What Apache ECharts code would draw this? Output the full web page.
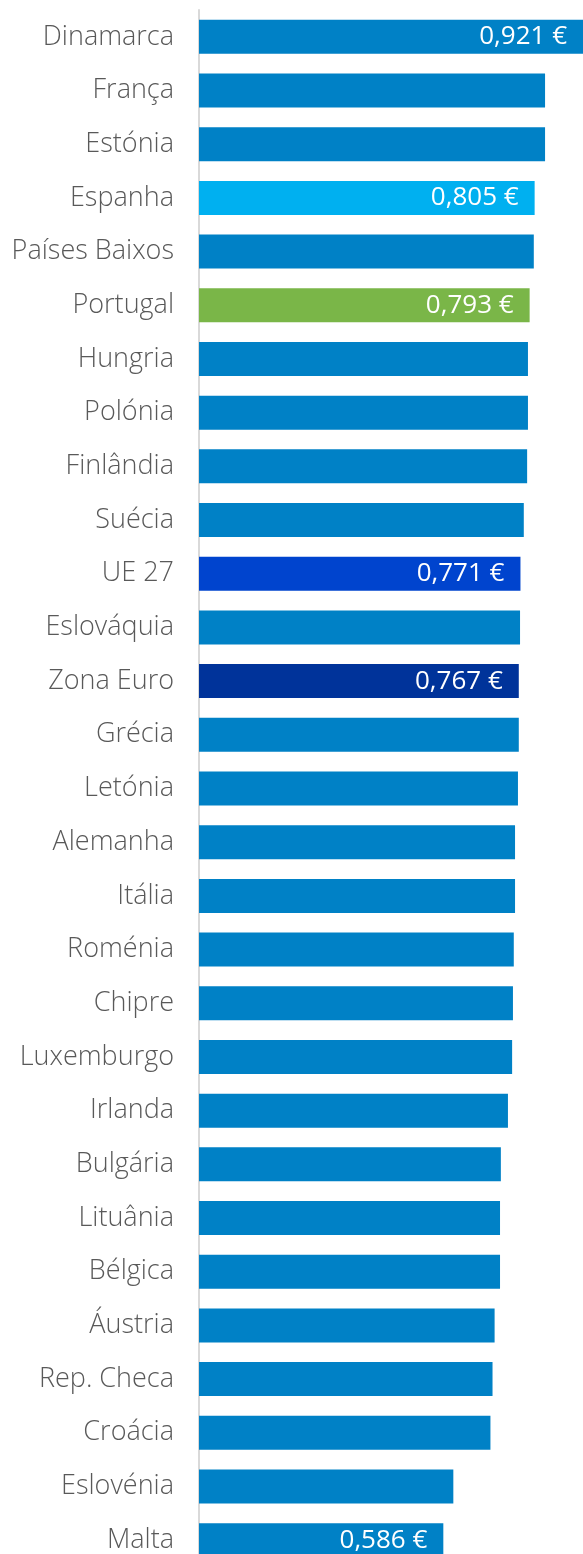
<!DOCTYPE html>
<html>
<head>
<meta charset="utf-8">
<script src="https://cdn.jsdelivr.net/npm/echarts@6/dist/echarts.min.js"></script>
<style>
  html, body { margin: 0; padding: 0; background: #fff; overflow: hidden; }
  /* a ultima barra fica cortada na imagem original */
  #chart { width: 583px; height: 1567px; }
</style>
</head>
<body>
<div id="chart"></div>
<script>
// preço por kWh (€)
var paises = ['Dinamarca', 'França', 'Estónia', 'Espanha', 'Países Baixos', 'Portugal', 'Hungria',
  'Polónia', 'Finlândia', 'Suécia', 'UE 27', 'Eslováquia', 'Zona Euro', 'Grécia', 'Letónia',
  'Alemanha', 'Itália', 'Roménia', 'Chipre', 'Luxemburgo', 'Irlanda', 'Bulgária', 'Lituânia',
  'Bélgica', 'Áustria', 'Rep. Checa', 'Croácia', 'Eslovénia', 'Malta']
var precos = [0.921, 0.830, 0.830, 0.805, 0.803, 0.793, 0.789,
  0.789, 0.787, 0.779, 0.771, 0.770, 0.767, 0.767, 0.765,
  0.758, 0.758, 0.755, 0.753, 0.751, 0.741, 0.724, 0.722,
  0.722, 0.709, 0.704, 0.699, 0.610, 0.586]
// so estes levam etiqueta
var comEtiqueta = ['Dinamarca', 'Espanha', 'Portugal', 'UE 27', 'Zona Euro', 'Malta']
var cores = {
  'Espanha': '#00B0F0',
  'Portugal': '#7AB648',
  'UE 27': '#0044CE',
  'Zona Euro': '#00339A'
}
var corBase = '#0081C6'

var chart = echarts.init(document.getElementById('chart'))

var dados = paises.map(function (p, i) {
  return {
    value: precos[i],
    itemStyle: { color: cores[p] || corBase },
    label: { show: comEtiqueta.indexOf(p) >= 0 }
  }
})

chart.setOption({
  animation: false,
  grid: {
    left: 199,
    right: 0,
    top: 10,
    bottom: 0
  },
  xAxis: {
    type: 'value',
    min: 0,
    max: 0.921,
    show: false
  },
  yAxis: {
    type: 'category',
    inverse: true,
    data: paises,
    axisTick: { show: false },
    axisLine: {
      lineStyle: { color: '#d9d9d9', width: 2 }
    },
    axisLabel: {
      margin: 25,
      color: '#595959',
      fontSize: 27,
      fontWeight: 300,
      fontFamily: 'Open Sans',
      padding: [4, 0, 0, 0]
    }
  },
  series: [{
    type: 'bar',
    barWidth: 34,
    data: dados,
    label: {
      position: 'insideRight',
      distance: 16,
      color: '#ffffff',
      fontSize: 26,
      fontFamily: 'Open Sans',
      formatter: function (p) {
        return p.value.toFixed(3).replace('.', ',') + ' €'
      }
    }
  }]
})
</script>
</body>
</html>
